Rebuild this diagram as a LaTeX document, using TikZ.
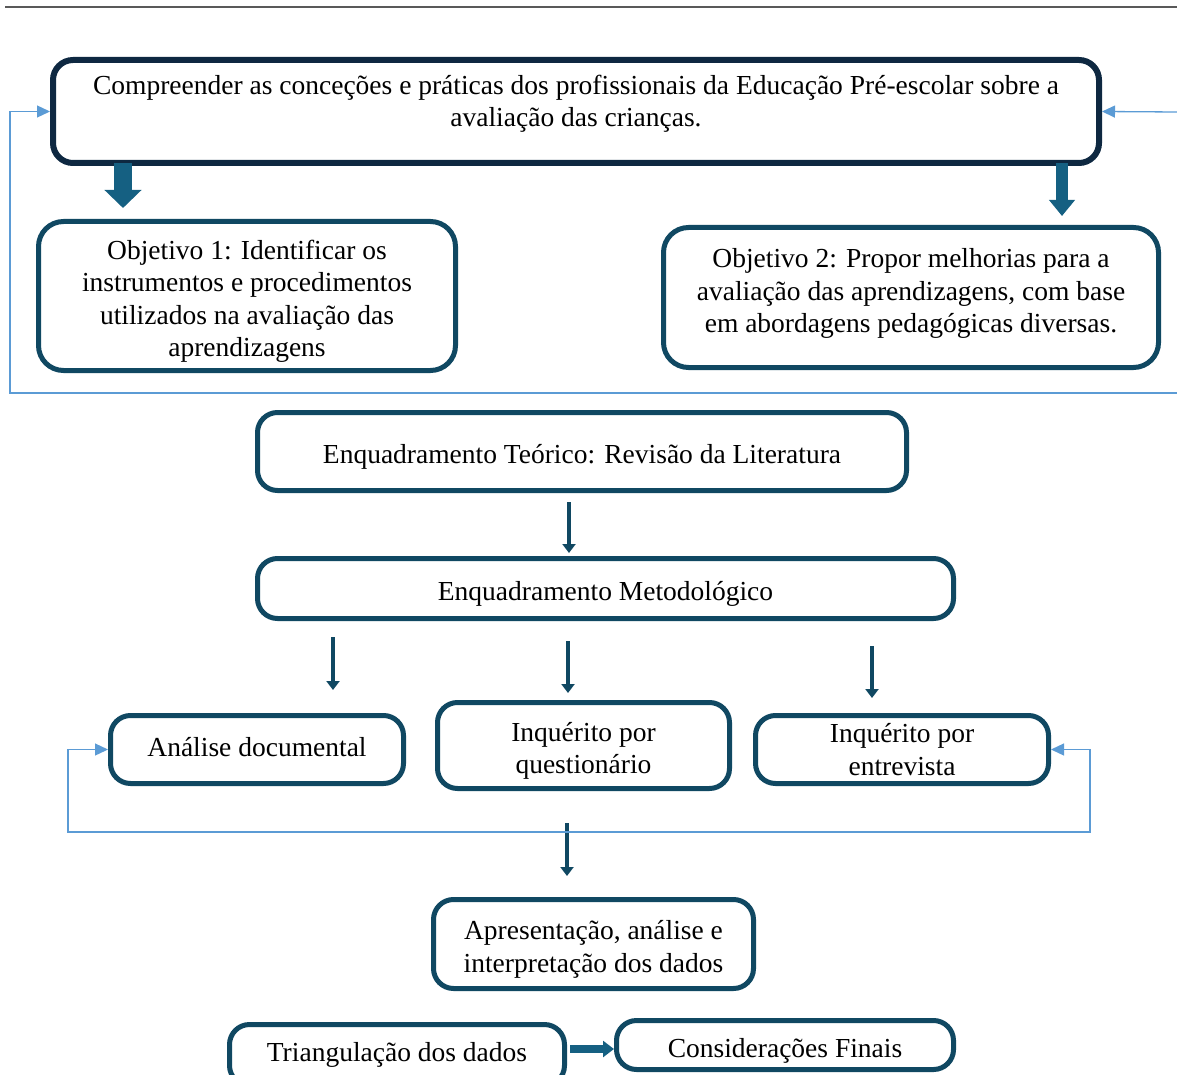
\documentclass[tikz,border=0pt]{standalone}
\usepackage{fontspec}
\setmainfont{Liberation Serif}
\usetikzlibrary{arrows.meta}
\definecolor{navy}{HTML}{0E2841}
\definecolor{teal}{HTML}{104862}
\definecolor{blockc}{HTML}{156082}
\definecolor{lblue}{HTML}{5B9BD5}
\definecolor{rulegray}{HTML}{595959}
\newcommand\bxstrut{\rule{0pt}{30pt}}
\newcommand\bxdeep[1]{\rule[-#1]{0pt}{#1}}
\tikzset{
  box/.style={draw=teal, line width=5pt, rounded corners=20pt, fill=white,
    align=center, inner sep=0pt, font=\fontsize{27.5}{32.5}\selectfont},
  thinarr/.style={draw=teal, line width=4.5pt, -{Triangle[width=13pt,length=9pt]}},
  bigarr/.style={draw=blockc, line width=18pt, -{Triangle[width=36pt,length=18pt]}},
  midarr/.style={draw=blockc, line width=12pt, -{Triangle[width=25pt,length=16pt]}},
  horarr/.style={draw=blockc, line width=8pt, -{Triangle[width=16pt,length=11pt]}},
  loopline/.style={draw=lblue, line width=1.3pt}
}
\begin{document}
\begin{tikzpicture}[x=1pt,y=-1pt]
\useasboundingbox (0,0) rectangle (1177,1075);
% top rule
\coordinate (ruleL) at (5,7);
\coordinate (ruleR) at (1177,7);
\draw[rulegray, line width=2pt] (ruleL) -- (ruleR);

% boxes
\node[box, draw=navy, line width=6pt, minimum width=1046pt, minimum height=103pt] (top) at (576,111.5)
  {Compreender as conceções e práticas dos profissionais da Educação Pré-escolar sobre a\\avaliação das crianças.\bxdeep{21pt}};
\node[box, rounded corners=25pt, minimum width=417pt, minimum height=149pt] (obj1) at (247,296)
  {\bxstrut Objetivo 1: Identificar os\\instrumentos e procedimentos\\utilizados na avaliação das\\aprendizagens};
\node[box, rounded corners=25pt, minimum width=495pt, minimum height=140pt] (obj2) at (911,297.5)
  {Objetivo 2: Propor melhorias para a\\avaliação das aprendizagens, com base\\em abordagens pedagógicas diversas.\bxdeep{14pt}};
\node[box, minimum width=649pt, minimum height=78pt] (teo) at (582,451.5)
  {\bxstrut Enquadramento Teórico: Revisão da Literatura};
\node[box, minimum width=696pt, minimum height=60pt] (met) at (605.5,588.5)
  {\bxstrut Enquadramento Metodológico};
\node[box, minimum width=293pt, minimum height=68pt] (ana) at (257,749.5)
  {Análise documental\bxdeep{6pt}};
\node[box, minimum width=292pt, minimum height=86pt] (que) at (583.5,745.5)
  {\bxstrut Inquérito por\\questionário};
\node[box, minimum width=293pt, minimum height=68pt] (ent) at (902,749.5)
  {Inquérito por\\entrevista};
\node[box, minimum width=320pt, minimum height=89pt] (apr) at (593.5,944)
  {\bxstrut Apresentação, análise e\\interpretação dos dados};
\node[box, minimum width=335pt, minimum height=61pt] (tri) at (397,1055)
  {Triangulação dos dados};
\node[box, minimum width=337pt, minimum height=49pt] (con) at (785,1045)
  {\bxstrut Considerações Finais};

% block arrows from top box
\coordinate (b1s) at (123,163);
\coordinate (b1e) at (123,208);
\draw[bigarr] (b1s) -- (b1e);
\coordinate (b2s) at (1062,163);
\coordinate (b2e) at (1062,216);
\draw[midarr] (b2s) -- (b2e);

% feedback lines top
\coordinate (lb) at (10,393);
\coordinate (rb) at (1177,393);
\coordinate (rt) at (1177,112);
\draw[loopline, -{Triangle[width=12pt,length=13pt]}] (rb) -- (lb) |- (top.west);
\draw[loopline, -{Triangle[width=12pt,length=13pt]}] (rt) -- (top.east);

% thin arrows
\coordinate (t1s) at (569,502);
\coordinate (t1e) at (569,553);
\draw[thinarr] (t1s) -- (t1e);
\coordinate (m1s) at (333,637);
\coordinate (m1e) at (333,690);
\draw[thinarr] (m1s) -- (m1e);
\coordinate (m2s) at (568,641);
\coordinate (m2e) at (568,693);
\draw[thinarr] (m2s) -- (m2e);
\coordinate (m3s) at (872,646);
\coordinate (m3e) at (872,698);
\draw[thinarr] (m3s) -- (m3e);
\coordinate (a1s) at (567,823);
\coordinate (a1e) at (567,876);
\draw[thinarr] (a1s) -- (a1e);

% bottom feedback loop
\coordinate (lb1) at (68,832);
\coordinate (lb2) at (1090,832);
\draw[loopline, {Triangle[width=12pt,length=13pt]}-{Triangle[width=12pt,length=13pt]}]
  (ana.west) -| (lb1) -- (lb2) |- (ent.east);

% triangulation -> considerações
\draw[horarr] (tri.east) ++(3,-6) coordinate (h1) -- (con.west |- h1);
\end{tikzpicture}
\end{document}
